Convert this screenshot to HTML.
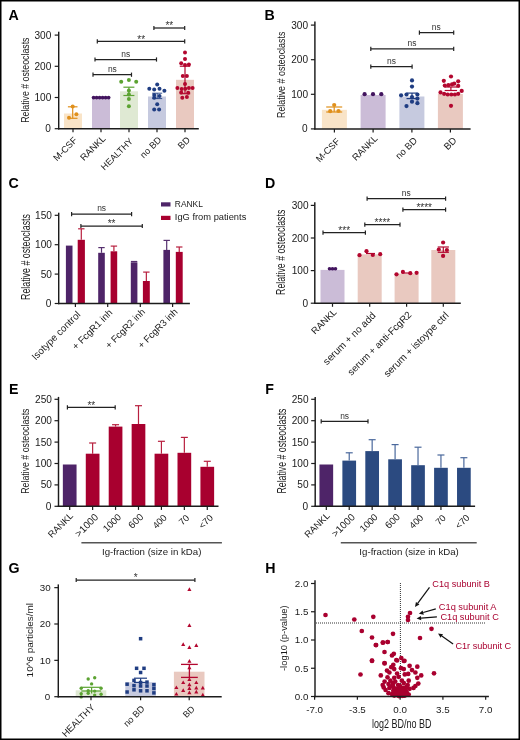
<!DOCTYPE html>
<html><head><meta charset="utf-8"><style>
html,body{margin:0;padding:0;background:#fff;width:520px;height:740px;overflow:hidden}
svg{display:block;font-family:"Liberation Sans", sans-serif;will-change:transform}
</style></head><body>
<svg width="520" height="740" viewBox="0 0 520 740">
<rect x="0" y="0" width="520" height="740" fill="#fff"/>
<text x="8.60" y="20.30" font-size="14.2" text-anchor="start" fill="#000" font-weight="bold" >A</text>
<rect x="64.00" y="113.50" width="18.00" height="15.20" fill="#f9e4c8"/>
<rect x="92.00" y="97.60" width="18.00" height="31.10" fill="#cbbcd7"/>
<rect x="120.00" y="91.30" width="18.00" height="37.40" fill="#dfe9d3"/>
<rect x="148.00" y="96.50" width="18.00" height="32.20" fill="#c6cadf"/>
<rect x="176.00" y="79.80" width="18.00" height="48.90" fill="#e9c9c0"/>
<line x1="72.70" y1="106.80" x2="72.70" y2="118.30" stroke="#e0901c" stroke-width="1.2" />
<line x1="67.90" y1="106.80" x2="77.50" y2="106.80" stroke="#e0901c" stroke-width="1.2" />
<line x1="67.90" y1="118.30" x2="77.50" y2="118.30" stroke="#e0901c" stroke-width="1.2" />
<circle cx="72.70" cy="106.60" r="2.0" fill="#e0901c"/>
<circle cx="76.40" cy="114.30" r="2.0" fill="#e0901c"/>
<circle cx="69.00" cy="117.70" r="2.0" fill="#e0901c"/>
<circle cx="93.60" cy="97.60" r="1.9" fill="#43155f"/>
<circle cx="96.60" cy="97.60" r="1.9" fill="#43155f"/>
<circle cx="99.60" cy="97.60" r="1.9" fill="#43155f"/>
<circle cx="102.60" cy="97.60" r="1.9" fill="#43155f"/>
<circle cx="105.60" cy="97.60" r="1.9" fill="#43155f"/>
<circle cx="108.60" cy="97.60" r="1.9" fill="#43155f"/>
<line x1="128.90" y1="87.20" x2="128.90" y2="95.50" stroke="#5ca332" stroke-width="1.2" />
<line x1="123.40" y1="87.20" x2="134.40" y2="87.20" stroke="#5ca332" stroke-width="1.2" />
<line x1="123.40" y1="95.50" x2="134.40" y2="95.50" stroke="#5ca332" stroke-width="1.2" />
<circle cx="121.20" cy="81.80" r="2.0" fill="#5ca332"/>
<circle cx="128.90" cy="80.10" r="2.0" fill="#5ca332"/>
<circle cx="136.20" cy="81.80" r="2.0" fill="#5ca332"/>
<circle cx="128.90" cy="90.40" r="2.0" fill="#5ca332"/>
<circle cx="128.90" cy="94.40" r="2.0" fill="#5ca332"/>
<circle cx="128.90" cy="98.90" r="2.0" fill="#5ca332"/>
<circle cx="128.90" cy="106.30" r="2.0" fill="#5ca332"/>
<line x1="157.20" y1="93.20" x2="157.20" y2="98.60" stroke="#1f3d82" stroke-width="0.9" />
<line x1="152.20" y1="93.20" x2="162.20" y2="93.20" stroke="#1f3d82" stroke-width="0.9" />
<line x1="152.20" y1="98.60" x2="162.20" y2="98.60" stroke="#1f3d82" stroke-width="0.9" />
<circle cx="157.20" cy="84.60" r="2.0" fill="#1f3d82"/>
<circle cx="149.30" cy="88.80" r="2.0" fill="#1f3d82"/>
<circle cx="154.20" cy="89.50" r="2.0" fill="#1f3d82"/>
<circle cx="159.50" cy="88.80" r="2.0" fill="#1f3d82"/>
<circle cx="164.40" cy="90.80" r="2.0" fill="#1f3d82"/>
<circle cx="154.20" cy="94.90" r="2.0" fill="#1f3d82"/>
<circle cx="159.50" cy="96.00" r="2.0" fill="#1f3d82"/>
<circle cx="154.20" cy="97.80" r="2.0" fill="#1f3d82"/>
<circle cx="157.20" cy="104.20" r="2.0" fill="#1f3d82"/>
<circle cx="154.20" cy="109.60" r="2.0" fill="#1f3d82"/>
<circle cx="159.10" cy="109.60" r="2.0" fill="#1f3d82"/>
<line x1="185.00" y1="66.20" x2="185.00" y2="93.70" stroke="#b3072f" stroke-width="1.2" />
<line x1="179.80" y1="66.20" x2="190.20" y2="66.20" stroke="#b3072f" stroke-width="1.2" />
<line x1="179.80" y1="93.70" x2="190.20" y2="93.70" stroke="#b3072f" stroke-width="1.2" />
<circle cx="185.00" cy="52.40" r="2.0" fill="#b3072f"/>
<circle cx="185.00" cy="58.90" r="2.0" fill="#b3072f"/>
<circle cx="181.20" cy="63.30" r="2.0" fill="#b3072f"/>
<circle cx="185.00" cy="64.90" r="2.0" fill="#b3072f"/>
<circle cx="188.90" cy="64.60" r="2.0" fill="#b3072f"/>
<circle cx="182.80" cy="76.10" r="2.0" fill="#b3072f"/>
<circle cx="186.90" cy="76.10" r="2.0" fill="#b3072f"/>
<circle cx="185.00" cy="83.90" r="2.0" fill="#b3072f"/>
<circle cx="177.40" cy="88.00" r="2.0" fill="#b3072f"/>
<circle cx="181.70" cy="89.10" r="2.0" fill="#b3072f"/>
<circle cx="185.30" cy="88.80" r="2.0" fill="#b3072f"/>
<circle cx="188.90" cy="88.00" r="2.0" fill="#b3072f"/>
<circle cx="192.60" cy="88.00" r="2.0" fill="#b3072f"/>
<circle cx="181.20" cy="92.40" r="2.0" fill="#b3072f"/>
<circle cx="188.20" cy="92.70" r="2.0" fill="#b3072f"/>
<circle cx="182.30" cy="97.80" r="2.0" fill="#b3072f"/>
<circle cx="186.90" cy="97.00" r="2.0" fill="#b3072f"/>
<line x1="58.70" y1="31.70" x2="58.70" y2="129.40" stroke="#1c1c1c" stroke-width="1.45" />
<line x1="54.70" y1="128.70" x2="58.70" y2="128.70" stroke="#1c1c1c" stroke-width="1.2" />
<text x="50.80" y="132.23" font-size="10.1" text-anchor="end" fill="#1a1a1a" font-weight="normal" >0</text>
<line x1="54.70" y1="97.50" x2="58.70" y2="97.50" stroke="#1c1c1c" stroke-width="1.2" />
<text x="51.30" y="101.03" font-size="10.1" text-anchor="end" fill="#1a1a1a" font-weight="normal" >100</text>
<line x1="54.70" y1="66.30" x2="58.70" y2="66.30" stroke="#1c1c1c" stroke-width="1.2" />
<text x="51.30" y="69.83" font-size="10.1" text-anchor="end" fill="#1a1a1a" font-weight="normal" >200</text>
<line x1="54.70" y1="35.10" x2="58.70" y2="35.10" stroke="#1c1c1c" stroke-width="1.2" />
<text x="51.30" y="38.63" font-size="10.1" text-anchor="end" fill="#1a1a1a" font-weight="normal" >300</text>
<line x1="58.00" y1="128.70" x2="198.80" y2="128.70" stroke="#1c1c1c" stroke-width="1.45" />
<line x1="73.00" y1="128.70" x2="73.00" y2="132.30" stroke="#1c1c1c" stroke-width="1.2" />
<line x1="101.00" y1="128.70" x2="101.00" y2="132.30" stroke="#1c1c1c" stroke-width="1.2" />
<line x1="129.00" y1="128.70" x2="129.00" y2="132.30" stroke="#1c1c1c" stroke-width="1.2" />
<line x1="157.00" y1="128.70" x2="157.00" y2="132.30" stroke="#1c1c1c" stroke-width="1.2" />
<line x1="185.00" y1="128.70" x2="185.00" y2="132.30" stroke="#1c1c1c" stroke-width="1.2" />
<text x="0" y="0" font-size="11.467" text-anchor="middle" fill="#1a1a1a" transform="translate(29.30 80.17) rotate(-90) scale(0.7655 1)">Relative # osteoclasts</text>
<text x="77.71" y="140.86" font-size="9.245" text-anchor="end" fill="#1a1a1a" font-weight="normal" transform="rotate(-45 77.71 140.86)" >M-CSF</text>
<text x="106.20" y="139.18" font-size="9.406" text-anchor="end" fill="#1a1a1a" font-weight="normal" transform="rotate(-45 106.20 139.18)" >RANKL</text>
<text x="133.61" y="141.67" font-size="9.053" text-anchor="end" fill="#1a1a1a" font-weight="normal" transform="rotate(-45 133.61 141.67)" >HEALTHY</text>
<text x="161.99" y="140.53" font-size="9.235" text-anchor="end" fill="#1a1a1a" font-weight="normal" transform="rotate(-45 161.99 140.53)" >no BD</text>
<text x="190.58" y="140.52" font-size="9.2" text-anchor="end" fill="#1a1a1a" font-weight="normal" transform="rotate(-45 190.58 140.52)" >BD</text>
<line x1="153.90" y1="28.00" x2="184.70" y2="28.00" stroke="#222" stroke-width="1.25" />
<line x1="153.90" y1="25.90" x2="153.90" y2="30.10" stroke="#222" stroke-width="1.2" />
<line x1="184.70" y1="25.90" x2="184.70" y2="30.10" stroke="#222" stroke-width="1.2" />
<text x="169.30" y="29.30" font-size="10" text-anchor="middle" fill="#333" font-weight="normal" >**</text>
<line x1="97.30" y1="41.40" x2="184.70" y2="41.40" stroke="#222" stroke-width="1.25" />
<line x1="97.30" y1="39.30" x2="97.30" y2="43.50" stroke="#222" stroke-width="1.2" />
<line x1="184.70" y1="39.30" x2="184.70" y2="43.50" stroke="#222" stroke-width="1.2" />
<text x="141.20" y="42.70" font-size="10" text-anchor="middle" fill="#333" font-weight="normal" >**</text>
<line x1="95.00" y1="59.50" x2="156.50" y2="59.50" stroke="#222" stroke-width="1.25" />
<line x1="95.00" y1="57.40" x2="95.00" y2="61.60" stroke="#222" stroke-width="1.2" />
<line x1="156.50" y1="57.40" x2="156.50" y2="61.60" stroke="#222" stroke-width="1.2" />
<text x="125.80" y="56.70" font-size="9.6" text-anchor="middle" fill="#333" font-weight="normal" textLength="8.90" lengthAdjust="spacingAndGlyphs" >ns</text>
<line x1="93.00" y1="74.70" x2="131.50" y2="74.70" stroke="#222" stroke-width="1.25" />
<line x1="93.00" y1="72.60" x2="93.00" y2="76.80" stroke="#222" stroke-width="1.2" />
<line x1="131.50" y1="72.60" x2="131.50" y2="76.80" stroke="#222" stroke-width="1.2" />
<text x="112.40" y="71.90" font-size="9.6" text-anchor="middle" fill="#333" font-weight="normal" textLength="8.90" lengthAdjust="spacingAndGlyphs" >ns</text>
<text x="264.60" y="20.30" font-size="14.2" text-anchor="start" fill="#000" font-weight="bold" >B</text>
<rect x="321.90" y="109.80" width="25.00" height="19.10" fill="#f9e4c8"/>
<rect x="360.60" y="95.00" width="25.00" height="33.90" fill="#cbbcd7"/>
<rect x="399.40" y="96.50" width="25.00" height="32.40" fill="#c6cadf"/>
<rect x="437.90" y="94.00" width="25.00" height="34.90" fill="#e9c9c0"/>
<line x1="334.20" y1="107.00" x2="334.20" y2="112.00" stroke="#e0901c" stroke-width="1.2" />
<line x1="326.20" y1="107.00" x2="342.20" y2="107.00" stroke="#e0901c" stroke-width="1.2" />
<line x1="326.20" y1="112.00" x2="342.20" y2="112.00" stroke="#e0901c" stroke-width="1.2" />
<circle cx="334.20" cy="105.00" r="2.1" fill="#e0901c"/>
<circle cx="330.20" cy="111.20" r="2.1" fill="#e0901c"/>
<circle cx="338.50" cy="111.00" r="2.1" fill="#e0901c"/>
<circle cx="364.60" cy="94.20" r="2.1" fill="#43155f"/>
<circle cx="373.00" cy="94.20" r="2.1" fill="#43155f"/>
<circle cx="381.30" cy="94.20" r="2.1" fill="#43155f"/>
<line x1="412.00" y1="93.10" x2="412.00" y2="98.60" stroke="#1f3d82" stroke-width="1.2" />
<line x1="406.50" y1="93.10" x2="417.50" y2="93.10" stroke="#1f3d82" stroke-width="1.2" />
<line x1="406.50" y1="98.60" x2="417.50" y2="98.60" stroke="#1f3d82" stroke-width="1.2" />
<circle cx="412.00" cy="80.40" r="2.1" fill="#1f3d82"/>
<circle cx="412.00" cy="86.60" r="2.1" fill="#1f3d82"/>
<circle cx="401.10" cy="95.30" r="2.1" fill="#1f3d82"/>
<circle cx="406.50" cy="94.50" r="2.1" fill="#1f3d82"/>
<circle cx="417.40" cy="94.50" r="2.1" fill="#1f3d82"/>
<circle cx="412.00" cy="97.10" r="2.1" fill="#1f3d82"/>
<circle cx="417.40" cy="98.60" r="2.1" fill="#1f3d82"/>
<circle cx="412.00" cy="101.70" r="2.1" fill="#1f3d82"/>
<circle cx="417.40" cy="103.20" r="2.1" fill="#1f3d82"/>
<circle cx="406.50" cy="106.10" r="2.1" fill="#1f3d82"/>
<line x1="450.90" y1="87.00" x2="450.90" y2="90.50" stroke="#b3072f" stroke-width="1.2" />
<line x1="444.70" y1="87.00" x2="457.10" y2="87.00" stroke="#b3072f" stroke-width="1.2" />
<line x1="444.70" y1="90.50" x2="457.10" y2="90.50" stroke="#b3072f" stroke-width="1.2" />
<circle cx="451.00" cy="76.50" r="2.1" fill="#b3072f"/>
<circle cx="443.80" cy="80.80" r="2.1" fill="#b3072f"/>
<circle cx="458.20" cy="81.30" r="2.1" fill="#b3072f"/>
<circle cx="444.80" cy="85.60" r="2.1" fill="#b3072f"/>
<circle cx="448.40" cy="85.20" r="2.1" fill="#b3072f"/>
<circle cx="452.00" cy="84.40" r="2.1" fill="#b3072f"/>
<circle cx="454.20" cy="83.70" r="2.1" fill="#b3072f"/>
<circle cx="458.20" cy="85.90" r="2.1" fill="#b3072f"/>
<circle cx="440.50" cy="92.40" r="2.1" fill="#b3072f"/>
<circle cx="444.10" cy="93.80" r="2.1" fill="#b3072f"/>
<circle cx="447.70" cy="94.50" r="2.1" fill="#b3072f"/>
<circle cx="451.30" cy="94.50" r="2.1" fill="#b3072f"/>
<circle cx="454.90" cy="94.50" r="2.1" fill="#b3072f"/>
<circle cx="458.20" cy="93.80" r="2.1" fill="#b3072f"/>
<circle cx="461.70" cy="90.90" r="2.1" fill="#b3072f"/>
<circle cx="451.00" cy="105.80" r="2.1" fill="#b3072f"/>
<line x1="314.90" y1="21.40" x2="314.90" y2="129.60" stroke="#1c1c1c" stroke-width="1.45" />
<line x1="310.90" y1="128.90" x2="314.90" y2="128.90" stroke="#1c1c1c" stroke-width="1.2" />
<text x="307.50" y="132.44" font-size="10.1" text-anchor="end" fill="#1a1a1a" font-weight="normal" >0</text>
<line x1="310.90" y1="94.30" x2="314.90" y2="94.30" stroke="#1c1c1c" stroke-width="1.2" />
<text x="308.00" y="97.84" font-size="10.1" text-anchor="end" fill="#1a1a1a" font-weight="normal" >100</text>
<line x1="310.90" y1="59.70" x2="314.90" y2="59.70" stroke="#1c1c1c" stroke-width="1.2" />
<text x="308.00" y="63.23" font-size="10.1" text-anchor="end" fill="#1a1a1a" font-weight="normal" >200</text>
<line x1="310.90" y1="25.10" x2="314.90" y2="25.10" stroke="#1c1c1c" stroke-width="1.2" />
<text x="308.00" y="28.63" font-size="10.1" text-anchor="end" fill="#1a1a1a" font-weight="normal" >300</text>
<line x1="314.20" y1="128.90" x2="470.60" y2="128.90" stroke="#1c1c1c" stroke-width="1.45" />
<line x1="334.40" y1="128.90" x2="334.40" y2="132.50" stroke="#1c1c1c" stroke-width="1.2" />
<line x1="373.10" y1="128.90" x2="373.10" y2="132.50" stroke="#1c1c1c" stroke-width="1.2" />
<line x1="411.90" y1="128.90" x2="411.90" y2="132.50" stroke="#1c1c1c" stroke-width="1.2" />
<line x1="450.40" y1="128.90" x2="450.40" y2="132.50" stroke="#1c1c1c" stroke-width="1.2" />
<text x="0" y="0" font-size="11.600" text-anchor="middle" fill="#1a1a1a" transform="translate(285.00 74.82) rotate(-90) scale(0.7665 1)">Relative # osteoclasts</text>
<text x="340.53" y="142.00" font-size="9.327" text-anchor="end" fill="#1a1a1a" font-weight="normal" transform="rotate(-45 340.53 142.00)" >M-CSF</text>
<text x="378.20" y="139.09" font-size="9.441" text-anchor="end" fill="#1a1a1a" font-weight="normal" transform="rotate(-45 378.20 139.09)" >RANKL</text>
<text x="417.82" y="141.12" font-size="9.474" text-anchor="end" fill="#1a1a1a" font-weight="normal" transform="rotate(-45 417.82 141.12)" >no BD</text>
<text x="457.25" y="141.17" font-size="9.64" text-anchor="end" fill="#1a1a1a" font-weight="normal" transform="rotate(-45 457.25 141.17)" >BD</text>
<line x1="370.80" y1="66.70" x2="412.10" y2="66.70" stroke="#222" stroke-width="1.25" />
<line x1="370.80" y1="64.60" x2="370.80" y2="68.80" stroke="#222" stroke-width="1.2" />
<line x1="412.10" y1="64.60" x2="412.10" y2="68.80" stroke="#222" stroke-width="1.2" />
<text x="391.50" y="63.90" font-size="9.6" text-anchor="middle" fill="#333" font-weight="normal" textLength="8.90" lengthAdjust="spacingAndGlyphs" >ns</text>
<line x1="370.80" y1="48.80" x2="453.70" y2="48.80" stroke="#222" stroke-width="1.25" />
<line x1="370.80" y1="46.70" x2="370.80" y2="50.90" stroke="#222" stroke-width="1.2" />
<line x1="453.70" y1="46.70" x2="453.70" y2="50.90" stroke="#222" stroke-width="1.2" />
<text x="412.00" y="46.00" font-size="9.6" text-anchor="middle" fill="#333" font-weight="normal" textLength="8.90" lengthAdjust="spacingAndGlyphs" >ns</text>
<line x1="419.40" y1="32.70" x2="453.70" y2="32.70" stroke="#222" stroke-width="1.25" />
<line x1="419.40" y1="30.60" x2="419.40" y2="34.80" stroke="#222" stroke-width="1.2" />
<line x1="453.70" y1="30.60" x2="453.70" y2="34.80" stroke="#222" stroke-width="1.2" />
<text x="436.30" y="29.90" font-size="9.6" text-anchor="middle" fill="#333" font-weight="normal" textLength="8.90" lengthAdjust="spacingAndGlyphs" >ns</text>
<text x="8.60" y="188.40" font-size="14.2" text-anchor="start" fill="#000" font-weight="bold" >C</text>
<rect x="65.90" y="245.60" width="6.60" height="57.90" fill="#4e2468"/>
<rect x="77.70" y="239.80" width="7.20" height="63.70" fill="#a8002f"/>
<line x1="81.30" y1="228.80" x2="81.30" y2="239.80" stroke="#b8203f" stroke-width="1.2" />
<line x1="78.10" y1="228.80" x2="84.50" y2="228.80" stroke="#b8203f" stroke-width="1.2" />
<rect x="98.20" y="252.80" width="6.60" height="50.70" fill="#4e2468"/>
<line x1="101.50" y1="247.60" x2="101.50" y2="252.80" stroke="#56306f" stroke-width="1.2" />
<line x1="98.30" y1="247.60" x2="104.70" y2="247.60" stroke="#56306f" stroke-width="1.2" />
<rect x="110.60" y="251.30" width="6.60" height="52.20" fill="#a8002f"/>
<line x1="113.90" y1="246.10" x2="113.90" y2="251.30" stroke="#b8203f" stroke-width="1.2" />
<line x1="110.70" y1="246.10" x2="117.10" y2="246.10" stroke="#b8203f" stroke-width="1.2" />
<rect x="130.80" y="262.30" width="6.60" height="41.20" fill="#4e2468"/>
<line x1="134.10" y1="261.50" x2="134.10" y2="262.30" stroke="#56306f" stroke-width="1.2" />
<line x1="130.90" y1="261.50" x2="137.30" y2="261.50" stroke="#56306f" stroke-width="1.2" />
<rect x="142.90" y="281.00" width="6.90" height="22.50" fill="#a8002f"/>
<line x1="146.35" y1="272.10" x2="146.35" y2="281.00" stroke="#b8203f" stroke-width="1.2" />
<line x1="143.15" y1="272.10" x2="149.55" y2="272.10" stroke="#b8203f" stroke-width="1.2" />
<rect x="163.40" y="249.90" width="6.60" height="53.60" fill="#4e2468"/>
<line x1="166.70" y1="240.40" x2="166.70" y2="249.90" stroke="#56306f" stroke-width="1.2" />
<line x1="163.50" y1="240.40" x2="169.90" y2="240.40" stroke="#56306f" stroke-width="1.2" />
<rect x="175.80" y="251.90" width="6.90" height="51.60" fill="#a8002f"/>
<line x1="179.25" y1="247.00" x2="179.25" y2="251.90" stroke="#b8203f" stroke-width="1.2" />
<line x1="176.05" y1="247.00" x2="182.45" y2="247.00" stroke="#b8203f" stroke-width="1.2" />
<line x1="58.70" y1="212.70" x2="58.70" y2="304.20" stroke="#1c1c1c" stroke-width="1.45" />
<line x1="54.70" y1="303.50" x2="58.70" y2="303.50" stroke="#1c1c1c" stroke-width="1.2" />
<text x="51.40" y="307.04" font-size="10.1" text-anchor="end" fill="#1a1a1a" font-weight="normal" >0</text>
<line x1="54.70" y1="274.10" x2="58.70" y2="274.10" stroke="#1c1c1c" stroke-width="1.2" />
<text x="51.91" y="277.64" font-size="10.1" text-anchor="end" fill="#1a1a1a" font-weight="normal" >50</text>
<line x1="54.70" y1="244.70" x2="58.70" y2="244.70" stroke="#1c1c1c" stroke-width="1.2" />
<text x="51.91" y="248.23" font-size="10.1" text-anchor="end" fill="#1a1a1a" font-weight="normal" >100</text>
<line x1="54.70" y1="215.30" x2="58.70" y2="215.30" stroke="#1c1c1c" stroke-width="1.2" />
<text x="51.91" y="218.84" font-size="10.1" text-anchor="end" fill="#1a1a1a" font-weight="normal" >150</text>
<line x1="58.00" y1="303.50" x2="189.90" y2="303.50" stroke="#1c1c1c" stroke-width="1.45" />
<line x1="75.40" y1="303.50" x2="75.40" y2="307.10" stroke="#1c1c1c" stroke-width="1.2" />
<line x1="107.70" y1="303.50" x2="107.70" y2="307.10" stroke="#1c1c1c" stroke-width="1.2" />
<line x1="140.30" y1="303.50" x2="140.30" y2="307.10" stroke="#1c1c1c" stroke-width="1.2" />
<line x1="172.60" y1="303.50" x2="172.60" y2="307.10" stroke="#1c1c1c" stroke-width="1.2" />
<text x="0" y="0" font-size="12.533" text-anchor="middle" fill="#1a1a1a" transform="translate(29.60 257.02) rotate(-90) scale(0.7061 1)">Relative # osteoclasts</text>
<line x1="71.60" y1="214.20" x2="131.60" y2="214.20" stroke="#222" stroke-width="1.25" />
<line x1="71.60" y1="212.10" x2="71.60" y2="216.30" stroke="#222" stroke-width="1.2" />
<line x1="131.60" y1="212.10" x2="131.60" y2="216.30" stroke="#222" stroke-width="1.2" />
<text x="101.60" y="211.40" font-size="9.6" text-anchor="middle" fill="#333" font-weight="normal" textLength="8.90" lengthAdjust="spacingAndGlyphs" >ns</text>
<line x1="80.90" y1="226.00" x2="142.30" y2="226.00" stroke="#222" stroke-width="1.25" />
<line x1="80.90" y1="223.90" x2="80.90" y2="228.10" stroke="#222" stroke-width="1.2" />
<line x1="142.30" y1="223.90" x2="142.30" y2="228.10" stroke="#222" stroke-width="1.2" />
<text x="111.60" y="227.30" font-size="10" text-anchor="middle" fill="#333" font-weight="normal" >**</text>
<rect x="161.00" y="202.30" width="9.50" height="4.20" fill="#4e2468"/>
<rect x="161.00" y="215.80" width="9.50" height="4.20" fill="#a8002f"/>
<text x="174.80" y="207.30" font-size="9.4" text-anchor="start" fill="#1a1a1a" font-weight="normal" textLength="28.10" lengthAdjust="spacingAndGlyphs" >RANKL</text>
<text x="174.80" y="220.30" font-size="9.4" text-anchor="start" fill="#1a1a1a" font-weight="normal" textLength="71.50" lengthAdjust="spacingAndGlyphs" >IgG from patients</text>
<text x="81.09" y="315.25" font-size="9.899" text-anchor="end" fill="#1a1a1a" font-weight="normal" transform="rotate(-45 81.09 315.25)" >Isotype control</text>
<text x="112.98" y="313.29" font-size="9.645" text-anchor="end" fill="#1a1a1a" font-weight="normal" transform="rotate(-45 112.98 313.29)" >+ FcgR1 inh</text>
<text x="145.68" y="312.46" font-size="9.53" text-anchor="end" fill="#1a1a1a" font-weight="normal" transform="rotate(-45 145.68 312.46)" >+ FcgR2 inh</text>
<text x="178.38" y="312.47" font-size="9.555" text-anchor="end" fill="#1a1a1a" font-weight="normal" transform="rotate(-45 178.38 312.47)" >+ FcgR3 inh</text>
<text x="265.00" y="188.40" font-size="14.2" text-anchor="start" fill="#000" font-weight="bold" >D</text>
<rect x="320.50" y="269.90" width="24.00" height="33.30" fill="#cbbcd7"/>
<rect x="357.70" y="254.30" width="24.00" height="48.90" fill="#e9c9c0"/>
<rect x="394.60" y="273.60" width="24.00" height="29.60" fill="#e9c9c0"/>
<rect x="431.30" y="250.00" width="24.00" height="53.20" fill="#e9c9c0"/>
<line x1="332.50" y1="268.50" x2="332.50" y2="269.50" stroke="#43155f" stroke-width="1.2" />
<line x1="329.50" y1="268.50" x2="335.50" y2="268.50" stroke="#43155f" stroke-width="1.2" />
<line x1="329.50" y1="269.50" x2="335.50" y2="269.50" stroke="#43155f" stroke-width="1.2" />
<circle cx="329.50" cy="268.80" r="1.8" fill="#43155f"/>
<circle cx="332.50" cy="268.80" r="1.8" fill="#43155f"/>
<circle cx="335.50" cy="268.80" r="1.8" fill="#43155f"/>
<line x1="366.00" y1="253.50" x2="375.00" y2="253.50" stroke="#b3072f" stroke-width="1.2" />
<circle cx="359.50" cy="255.20" r="2.1" fill="#b3072f"/>
<circle cx="366.50" cy="251.20" r="2.1" fill="#b3072f"/>
<circle cx="372.80" cy="255.00" r="2.1" fill="#b3072f"/>
<circle cx="380.20" cy="254.20" r="2.1" fill="#b3072f"/>
<line x1="402.00" y1="273.00" x2="412.00" y2="273.00" stroke="#b3072f" stroke-width="1.2" />
<circle cx="396.50" cy="274.30" r="2.1" fill="#b3072f"/>
<circle cx="402.90" cy="271.90" r="2.1" fill="#b3072f"/>
<circle cx="410.30" cy="273.20" r="2.1" fill="#b3072f"/>
<circle cx="416.60" cy="272.80" r="2.1" fill="#b3072f"/>
<line x1="443.30" y1="247.00" x2="443.30" y2="252.30" stroke="#b3072f" stroke-width="1.2" />
<line x1="437.70" y1="247.00" x2="448.90" y2="247.00" stroke="#b3072f" stroke-width="1.2" />
<line x1="437.70" y1="252.30" x2="448.90" y2="252.30" stroke="#b3072f" stroke-width="1.2" />
<circle cx="443.10" cy="242.50" r="2.1" fill="#b3072f"/>
<circle cx="438.80" cy="249.50" r="2.1" fill="#b3072f"/>
<circle cx="446.90" cy="250.00" r="2.1" fill="#b3072f"/>
<circle cx="443.10" cy="255.90" r="2.1" fill="#b3072f"/>
<line x1="314.80" y1="202.30" x2="314.80" y2="303.90" stroke="#1c1c1c" stroke-width="1.45" />
<line x1="310.80" y1="303.20" x2="314.80" y2="303.20" stroke="#1c1c1c" stroke-width="1.2" />
<text x="308.00" y="306.74" font-size="10.1" text-anchor="end" fill="#1a1a1a" font-weight="normal" >0</text>
<line x1="310.80" y1="270.60" x2="314.80" y2="270.60" stroke="#1c1c1c" stroke-width="1.2" />
<text x="308.50" y="274.13" font-size="10.1" text-anchor="end" fill="#1a1a1a" font-weight="normal" >100</text>
<line x1="310.80" y1="238.00" x2="314.80" y2="238.00" stroke="#1c1c1c" stroke-width="1.2" />
<text x="308.50" y="241.53" font-size="10.1" text-anchor="end" fill="#1a1a1a" font-weight="normal" >200</text>
<line x1="310.80" y1="205.40" x2="314.80" y2="205.40" stroke="#1c1c1c" stroke-width="1.2" />
<text x="308.50" y="208.93" font-size="10.1" text-anchor="end" fill="#1a1a1a" font-weight="normal" >300</text>
<line x1="314.10" y1="303.20" x2="460.80" y2="303.20" stroke="#1c1c1c" stroke-width="1.45" />
<line x1="332.50" y1="303.20" x2="332.50" y2="306.80" stroke="#1c1c1c" stroke-width="1.2" />
<line x1="369.70" y1="303.20" x2="369.70" y2="306.80" stroke="#1c1c1c" stroke-width="1.2" />
<line x1="406.60" y1="303.20" x2="406.60" y2="306.80" stroke="#1c1c1c" stroke-width="1.2" />
<line x1="443.30" y1="303.20" x2="443.30" y2="306.80" stroke="#1c1c1c" stroke-width="1.2" />
<text x="0" y="0" font-size="12.000" text-anchor="middle" fill="#1a1a1a" transform="translate(285.20 252.32) rotate(-90) scale(0.7306 1)">Relative # osteoclasts</text>
<line x1="323.00" y1="232.70" x2="365.40" y2="232.70" stroke="#222" stroke-width="1.25" />
<line x1="323.00" y1="230.60" x2="323.00" y2="234.80" stroke="#222" stroke-width="1.2" />
<line x1="365.40" y1="230.60" x2="365.40" y2="234.80" stroke="#222" stroke-width="1.2" />
<text x="344.20" y="234.00" font-size="10" text-anchor="middle" fill="#333" font-weight="normal" >***</text>
<line x1="364.80" y1="224.60" x2="400.00" y2="224.60" stroke="#222" stroke-width="1.25" />
<line x1="364.80" y1="222.50" x2="364.80" y2="226.70" stroke="#222" stroke-width="1.2" />
<line x1="400.00" y1="222.50" x2="400.00" y2="226.70" stroke="#222" stroke-width="1.2" />
<text x="382.40" y="225.90" font-size="10" text-anchor="middle" fill="#333" font-weight="normal" >****</text>
<line x1="402.90" y1="209.60" x2="445.60" y2="209.60" stroke="#222" stroke-width="1.25" />
<line x1="402.90" y1="207.50" x2="402.90" y2="211.70" stroke="#222" stroke-width="1.2" />
<line x1="445.60" y1="207.50" x2="445.60" y2="211.70" stroke="#222" stroke-width="1.2" />
<text x="424.20" y="210.90" font-size="10" text-anchor="middle" fill="#333" font-weight="normal" >****</text>
<line x1="367.10" y1="198.70" x2="445.60" y2="198.70" stroke="#222" stroke-width="1.25" />
<line x1="367.10" y1="196.60" x2="367.10" y2="200.80" stroke="#222" stroke-width="1.2" />
<line x1="445.60" y1="196.60" x2="445.60" y2="200.80" stroke="#222" stroke-width="1.2" />
<text x="406.30" y="195.90" font-size="9.6" text-anchor="middle" fill="#333" font-weight="normal" textLength="8.90" lengthAdjust="spacingAndGlyphs" >ns</text>
<text x="337.30" y="312.68" font-size="9.421" text-anchor="end" fill="#1a1a1a" font-weight="normal" transform="rotate(-45 337.30 312.68)" >RANKL</text>
<text x="376.30" y="316.19" font-size="9.983" text-anchor="end" fill="#1a1a1a" font-weight="normal" transform="rotate(-45 376.30 316.19)" >serum + no add</text>
<text x="412.19" y="315.30" font-size="9.74" text-anchor="end" fill="#1a1a1a" font-weight="normal" transform="rotate(-45 412.19 315.30)" >serum + anti-FcgR2</text>
<text x="449.40" y="316.01" font-size="10.023" text-anchor="end" fill="#1a1a1a" font-weight="normal" transform="rotate(-45 449.40 316.01)" >serum + istoype ctrl</text>
<text x="9.00" y="394.20" font-size="14.2" text-anchor="start" fill="#000" font-weight="bold" >E</text>
<rect x="62.85" y="464.50" width="13.70" height="41.80" fill="#4e2468"/>
<rect x="85.78" y="453.70" width="13.70" height="52.60" fill="#a8002f"/>
<line x1="92.63" y1="443.00" x2="92.63" y2="453.70" stroke="#b8203f" stroke-width="1.2" />
<line x1="89.13" y1="443.00" x2="96.13" y2="443.00" stroke="#b8203f" stroke-width="1.2" />
<rect x="108.71" y="426.60" width="13.70" height="79.70" fill="#a8002f"/>
<line x1="115.56" y1="424.70" x2="115.56" y2="426.60" stroke="#b8203f" stroke-width="1.2" />
<line x1="112.06" y1="424.70" x2="119.06" y2="424.70" stroke="#b8203f" stroke-width="1.2" />
<rect x="131.64" y="424.00" width="13.70" height="82.30" fill="#a8002f"/>
<line x1="138.49" y1="405.70" x2="138.49" y2="424.00" stroke="#b8203f" stroke-width="1.2" />
<line x1="134.99" y1="405.70" x2="141.99" y2="405.70" stroke="#b8203f" stroke-width="1.2" />
<rect x="154.57" y="453.70" width="13.70" height="52.60" fill="#a8002f"/>
<line x1="161.42" y1="441.30" x2="161.42" y2="453.70" stroke="#b8203f" stroke-width="1.2" />
<line x1="157.92" y1="441.30" x2="164.92" y2="441.30" stroke="#b8203f" stroke-width="1.2" />
<rect x="177.50" y="452.80" width="13.70" height="53.50" fill="#a8002f"/>
<line x1="184.35" y1="437.40" x2="184.35" y2="452.80" stroke="#b8203f" stroke-width="1.2" />
<line x1="180.85" y1="437.40" x2="187.85" y2="437.40" stroke="#b8203f" stroke-width="1.2" />
<rect x="200.43" y="466.80" width="13.70" height="39.50" fill="#a8002f"/>
<line x1="207.28" y1="461.30" x2="207.28" y2="466.80" stroke="#b8203f" stroke-width="1.2" />
<line x1="203.78" y1="461.30" x2="210.78" y2="461.30" stroke="#b8203f" stroke-width="1.2" />
<line x1="58.50" y1="396.90" x2="58.50" y2="507.00" stroke="#1c1c1c" stroke-width="1.45" />
<line x1="54.50" y1="506.30" x2="58.50" y2="506.30" stroke="#1c1c1c" stroke-width="1.2" />
<text x="51.40" y="509.84" font-size="10.1" text-anchor="end" fill="#1a1a1a" font-weight="normal" >0</text>
<line x1="54.50" y1="484.90" x2="58.50" y2="484.90" stroke="#1c1c1c" stroke-width="1.2" />
<text x="51.91" y="488.44" font-size="10.1" text-anchor="end" fill="#1a1a1a" font-weight="normal" >50</text>
<line x1="54.50" y1="463.50" x2="58.50" y2="463.50" stroke="#1c1c1c" stroke-width="1.2" />
<text x="51.91" y="467.04" font-size="10.1" text-anchor="end" fill="#1a1a1a" font-weight="normal" >100</text>
<line x1="54.50" y1="442.10" x2="58.50" y2="442.10" stroke="#1c1c1c" stroke-width="1.2" />
<text x="51.91" y="445.64" font-size="10.1" text-anchor="end" fill="#1a1a1a" font-weight="normal" >150</text>
<line x1="54.50" y1="420.70" x2="58.50" y2="420.70" stroke="#1c1c1c" stroke-width="1.2" />
<text x="51.91" y="424.24" font-size="10.1" text-anchor="end" fill="#1a1a1a" font-weight="normal" >200</text>
<line x1="54.50" y1="399.30" x2="58.50" y2="399.30" stroke="#1c1c1c" stroke-width="1.2" />
<text x="51.91" y="402.84" font-size="10.1" text-anchor="end" fill="#1a1a1a" font-weight="normal" >250</text>
<line x1="57.80" y1="506.30" x2="218.50" y2="506.30" stroke="#1c1c1c" stroke-width="1.45" />
<line x1="69.70" y1="506.30" x2="69.70" y2="509.90" stroke="#1c1c1c" stroke-width="1.2" />
<line x1="92.63" y1="506.30" x2="92.63" y2="509.90" stroke="#1c1c1c" stroke-width="1.2" />
<line x1="115.56" y1="506.30" x2="115.56" y2="509.90" stroke="#1c1c1c" stroke-width="1.2" />
<line x1="138.49" y1="506.30" x2="138.49" y2="509.90" stroke="#1c1c1c" stroke-width="1.2" />
<line x1="161.42" y1="506.30" x2="161.42" y2="509.90" stroke="#1c1c1c" stroke-width="1.2" />
<line x1="184.35" y1="506.30" x2="184.35" y2="509.90" stroke="#1c1c1c" stroke-width="1.2" />
<line x1="207.28" y1="506.30" x2="207.28" y2="509.90" stroke="#1c1c1c" stroke-width="1.2" />
<text x="0" y="0" font-size="11.333" text-anchor="middle" fill="#1a1a1a" transform="translate(29.40 451.12) rotate(-90) scale(0.7735 1)">Relative # osteoclasts</text>
<text x="73.70" y="516.36" font-size="9.305" text-anchor="end" fill="#1a1a1a" font-weight="normal" transform="rotate(-45 73.70 516.36)" >RANKL</text>
<text x="99.01" y="517.73" font-size="10.065" text-anchor="end" fill="#1a1a1a" font-weight="normal" transform="rotate(-45 99.01 517.73)" >&gt;1000</text>
<text x="121.75" y="517.69" font-size="9.481" text-anchor="end" fill="#1a1a1a" font-weight="normal" transform="rotate(-45 121.75 517.69)" >1000</text>
<text x="144.09" y="517.47" font-size="9.931" text-anchor="end" fill="#1a1a1a" font-weight="normal" transform="rotate(-45 144.09 517.47)" >600</text>
<text x="167.43" y="518.22" font-size="9.3" text-anchor="end" fill="#1a1a1a" font-weight="normal" transform="rotate(-45 167.43 518.22)" >400</text>
<text x="189.93" y="518.52" font-size="9.3" text-anchor="end" fill="#1a1a1a" font-weight="normal" transform="rotate(-45 189.93 518.52)" >70</text>
<text x="213.63" y="518.22" font-size="9.3" text-anchor="end" fill="#1a1a1a" font-weight="normal" transform="rotate(-45 213.63 518.22)" >&lt;70</text>
<line x1="81.40" y1="542.80" x2="221.90" y2="542.80" stroke="#555" stroke-width="1.6" />
<text x="151.70" y="554.80" font-size="9.8" text-anchor="middle" fill="#1a1a1a" font-weight="normal" textLength="99.50" lengthAdjust="spacingAndGlyphs" >Ig-fraction (size in kDa)</text>
<line x1="67.40" y1="407.40" x2="115.20" y2="407.40" stroke="#222" stroke-width="1.25" />
<line x1="67.40" y1="405.30" x2="67.40" y2="409.50" stroke="#222" stroke-width="1.2" />
<line x1="115.20" y1="405.30" x2="115.20" y2="409.50" stroke="#222" stroke-width="1.2" />
<text x="91.30" y="408.70" font-size="10" text-anchor="middle" fill="#333" font-weight="normal" >**</text>
<text x="265.20" y="394.20" font-size="14.2" text-anchor="start" fill="#000" font-weight="bold" >F</text>
<rect x="319.45" y="464.50" width="13.70" height="41.80" fill="#4e2468"/>
<rect x="342.38" y="460.60" width="13.70" height="45.70" fill="#2b4a80"/>
<line x1="349.23" y1="452.80" x2="349.23" y2="460.60" stroke="#4a689c" stroke-width="1.2" />
<line x1="345.73" y1="452.80" x2="352.73" y2="452.80" stroke="#4a689c" stroke-width="1.2" />
<rect x="365.31" y="451.10" width="13.70" height="55.20" fill="#2b4a80"/>
<line x1="372.16" y1="439.70" x2="372.16" y2="451.10" stroke="#4a689c" stroke-width="1.2" />
<line x1="368.66" y1="439.70" x2="375.66" y2="439.70" stroke="#4a689c" stroke-width="1.2" />
<rect x="388.24" y="459.30" width="13.70" height="47.00" fill="#2b4a80"/>
<line x1="395.09" y1="444.60" x2="395.09" y2="459.30" stroke="#4a689c" stroke-width="1.2" />
<line x1="391.59" y1="444.60" x2="398.59" y2="444.60" stroke="#4a689c" stroke-width="1.2" />
<rect x="411.17" y="465.20" width="13.70" height="41.10" fill="#2b4a80"/>
<line x1="418.02" y1="447.20" x2="418.02" y2="465.20" stroke="#4a689c" stroke-width="1.2" />
<line x1="414.52" y1="447.20" x2="421.52" y2="447.20" stroke="#4a689c" stroke-width="1.2" />
<rect x="434.10" y="467.80" width="13.70" height="38.50" fill="#2b4a80"/>
<line x1="440.95" y1="455.00" x2="440.95" y2="467.80" stroke="#4a689c" stroke-width="1.2" />
<line x1="437.45" y1="455.00" x2="444.45" y2="455.00" stroke="#4a689c" stroke-width="1.2" />
<rect x="457.03" y="467.80" width="13.70" height="38.50" fill="#2b4a80"/>
<line x1="463.88" y1="457.70" x2="463.88" y2="467.80" stroke="#4a689c" stroke-width="1.2" />
<line x1="460.38" y1="457.70" x2="467.38" y2="457.70" stroke="#4a689c" stroke-width="1.2" />
<line x1="315.20" y1="396.90" x2="315.20" y2="507.00" stroke="#1c1c1c" stroke-width="1.45" />
<line x1="311.20" y1="506.30" x2="315.20" y2="506.30" stroke="#1c1c1c" stroke-width="1.2" />
<text x="308.00" y="509.84" font-size="10.1" text-anchor="end" fill="#1a1a1a" font-weight="normal" >0</text>
<line x1="311.20" y1="484.90" x2="315.20" y2="484.90" stroke="#1c1c1c" stroke-width="1.2" />
<text x="308.50" y="488.44" font-size="10.1" text-anchor="end" fill="#1a1a1a" font-weight="normal" >50</text>
<line x1="311.20" y1="463.50" x2="315.20" y2="463.50" stroke="#1c1c1c" stroke-width="1.2" />
<text x="308.50" y="467.04" font-size="10.1" text-anchor="end" fill="#1a1a1a" font-weight="normal" >100</text>
<line x1="311.20" y1="442.10" x2="315.20" y2="442.10" stroke="#1c1c1c" stroke-width="1.2" />
<text x="308.50" y="445.64" font-size="10.1" text-anchor="end" fill="#1a1a1a" font-weight="normal" >150</text>
<line x1="311.20" y1="420.70" x2="315.20" y2="420.70" stroke="#1c1c1c" stroke-width="1.2" />
<text x="308.50" y="424.24" font-size="10.1" text-anchor="end" fill="#1a1a1a" font-weight="normal" >200</text>
<line x1="311.20" y1="399.30" x2="315.20" y2="399.30" stroke="#1c1c1c" stroke-width="1.2" />
<text x="308.50" y="402.84" font-size="10.1" text-anchor="end" fill="#1a1a1a" font-weight="normal" >250</text>
<line x1="314.50" y1="506.30" x2="475.10" y2="506.30" stroke="#1c1c1c" stroke-width="1.45" />
<line x1="326.30" y1="506.30" x2="326.30" y2="509.90" stroke="#1c1c1c" stroke-width="1.2" />
<line x1="349.23" y1="506.30" x2="349.23" y2="509.90" stroke="#1c1c1c" stroke-width="1.2" />
<line x1="372.16" y1="506.30" x2="372.16" y2="509.90" stroke="#1c1c1c" stroke-width="1.2" />
<line x1="395.09" y1="506.30" x2="395.09" y2="509.90" stroke="#1c1c1c" stroke-width="1.2" />
<line x1="418.02" y1="506.30" x2="418.02" y2="509.90" stroke="#1c1c1c" stroke-width="1.2" />
<line x1="440.95" y1="506.30" x2="440.95" y2="509.90" stroke="#1c1c1c" stroke-width="1.2" />
<line x1="463.88" y1="506.30" x2="463.88" y2="509.90" stroke="#1c1c1c" stroke-width="1.2" />
<text x="0" y="0" font-size="12.267" text-anchor="middle" fill="#1a1a1a" transform="translate(286.00 451.02) rotate(-90) scale(0.7130 1)">Relative # osteoclasts</text>
<text x="330.30" y="516.36" font-size="9.305" text-anchor="end" fill="#1a1a1a" font-weight="normal" transform="rotate(-45 330.30 516.36)" >RANKL</text>
<text x="355.61" y="517.73" font-size="10.065" text-anchor="end" fill="#1a1a1a" font-weight="normal" transform="rotate(-45 355.61 517.73)" >&gt;1000</text>
<text x="378.35" y="517.69" font-size="9.481" text-anchor="end" fill="#1a1a1a" font-weight="normal" transform="rotate(-45 378.35 517.69)" >1000</text>
<text x="400.69" y="517.47" font-size="9.931" text-anchor="end" fill="#1a1a1a" font-weight="normal" transform="rotate(-45 400.69 517.47)" >600</text>
<text x="424.03" y="518.22" font-size="9.3" text-anchor="end" fill="#1a1a1a" font-weight="normal" transform="rotate(-45 424.03 518.22)" >400</text>
<text x="446.53" y="518.52" font-size="9.3" text-anchor="end" fill="#1a1a1a" font-weight="normal" transform="rotate(-45 446.53 518.52)" >70</text>
<text x="470.23" y="518.22" font-size="9.3" text-anchor="end" fill="#1a1a1a" font-weight="normal" transform="rotate(-45 470.23 518.22)" >&lt;70</text>
<line x1="340.80" y1="542.80" x2="476.70" y2="542.80" stroke="#555" stroke-width="1.6" />
<text x="409.10" y="554.80" font-size="9.8" text-anchor="middle" fill="#1a1a1a" font-weight="normal" textLength="99.50" lengthAdjust="spacingAndGlyphs" >Ig-fraction (size in kDa)</text>
<line x1="321.20" y1="421.40" x2="368.00" y2="421.40" stroke="#222" stroke-width="1.25" />
<line x1="321.20" y1="419.30" x2="321.20" y2="423.50" stroke="#222" stroke-width="1.2" />
<line x1="368.00" y1="419.30" x2="368.00" y2="423.50" stroke="#222" stroke-width="1.2" />
<text x="344.60" y="418.60" font-size="9.6" text-anchor="middle" fill="#333" font-weight="normal" textLength="8.90" lengthAdjust="spacingAndGlyphs" >ns</text>
<text x="8.60" y="572.60" font-size="14.2" text-anchor="start" fill="#000" font-weight="bold" >G</text>
<rect x="75.70" y="690.30" width="30.60" height="6.40" fill="#dfe9d3"/>
<rect x="125.30" y="682.20" width="30.60" height="14.50" fill="#c6cadf"/>
<rect x="173.90" y="671.70" width="30.60" height="25.00" fill="#e9c9c0"/>
<line x1="81.20" y1="687.30" x2="101.10" y2="687.30" stroke="#5ca332" stroke-width="1.2" />
<line x1="81.20" y1="691.00" x2="101.10" y2="691.00" stroke="#5ca332" stroke-width="1.2" />
<line x1="91.60" y1="687.30" x2="91.60" y2="693.50" stroke="#5ca332" stroke-width="1.2" />
<circle cx="88.20" cy="679.00" r="1.7" fill="#5ca332"/>
<circle cx="94.70" cy="677.80" r="1.7" fill="#5ca332"/>
<circle cx="91.60" cy="683.90" r="1.7" fill="#5ca332"/>
<circle cx="81.20" cy="688.20" r="1.7" fill="#5ca332"/>
<circle cx="101.10" cy="688.20" r="1.7" fill="#5ca332"/>
<circle cx="88.20" cy="690.80" r="1.7" fill="#5ca332"/>
<circle cx="94.70" cy="691.10" r="1.7" fill="#5ca332"/>
<circle cx="81.20" cy="693.70" r="1.7" fill="#5ca332"/>
<circle cx="88.20" cy="693.20" r="1.7" fill="#5ca332"/>
<circle cx="94.70" cy="695.10" r="1.7" fill="#5ca332"/>
<circle cx="101.10" cy="694.30" r="1.7" fill="#5ca332"/>
<circle cx="81.20" cy="696.90" r="1.7" fill="#5ca332"/>
<line x1="134.00" y1="678.20" x2="147.00" y2="678.20" stroke="#1f3d82" stroke-width="1.2" />
<line x1="134.00" y1="682.40" x2="147.00" y2="682.40" stroke="#1f3d82" stroke-width="1.2" />
<line x1="140.60" y1="678.20" x2="140.60" y2="685.00" stroke="#1f3d82" stroke-width="1.2" />
<rect x="138.85" y="636.95" width="3.5" height="3.5" fill="#1f3d82"/>
<rect x="134.85" y="666.55" width="3.5" height="3.5" fill="#1f3d82"/>
<rect x="142.25" y="666.55" width="3.5" height="3.5" fill="#1f3d82"/>
<rect x="138.85" y="670.75" width="3.5" height="3.5" fill="#1f3d82"/>
<rect x="132.25" y="678.65" width="3.5" height="3.5" fill="#1f3d82"/>
<rect x="138.85" y="680.75" width="3.5" height="3.5" fill="#1f3d82"/>
<rect x="145.25" y="680.35" width="3.5" height="3.5" fill="#1f3d82"/>
<rect x="125.35" y="682.45" width="3.5" height="3.5" fill="#1f3d82"/>
<rect x="152.15" y="682.95" width="3.5" height="3.5" fill="#1f3d82"/>
<rect x="132.25" y="683.85" width="3.5" height="3.5" fill="#1f3d82"/>
<rect x="138.85" y="684.25" width="3.5" height="3.5" fill="#1f3d82"/>
<rect x="145.25" y="684.25" width="3.5" height="3.5" fill="#1f3d82"/>
<rect x="152.15" y="686.75" width="3.5" height="3.5" fill="#1f3d82"/>
<rect x="125.35" y="690.25" width="3.5" height="3.5" fill="#1f3d82"/>
<rect x="132.25" y="688.05" width="3.5" height="3.5" fill="#1f3d82"/>
<rect x="138.85" y="689.05" width="3.5" height="3.5" fill="#1f3d82"/>
<rect x="145.25" y="689.05" width="3.5" height="3.5" fill="#1f3d82"/>
<rect x="152.15" y="691.15" width="3.5" height="3.5" fill="#1f3d82"/>
<line x1="189.40" y1="664.40" x2="189.40" y2="677.40" stroke="#b3072f" stroke-width="1.3" />
<line x1="181.00" y1="664.40" x2="197.80" y2="664.40" stroke="#b3072f" stroke-width="1.3" />
<line x1="181.00" y1="677.40" x2="197.80" y2="677.40" stroke="#b3072f" stroke-width="1.3" />
<polygon points="189.40,587.19 191.45,590.88 187.35,590.88" fill="#b3072f"/>
<polygon points="189.40,623.29 191.45,626.98 187.35,626.98" fill="#b3072f"/>
<polygon points="183.20,642.19 185.25,645.88 181.15,645.88" fill="#b3072f"/>
<polygon points="196.30,643.19 198.35,646.88 194.25,646.88" fill="#b3072f"/>
<polygon points="189.40,645.19 191.45,648.88 187.35,648.88" fill="#b3072f"/>
<polygon points="189.40,658.99 191.45,662.68 187.35,662.68" fill="#b3072f"/>
<polygon points="189.40,665.49 191.45,669.18 187.35,669.18" fill="#b3072f"/>
<polygon points="189.40,677.19 191.45,680.88 187.35,680.88" fill="#b3072f"/>
<polygon points="183.20,680.39 185.25,684.08 181.15,684.08" fill="#b3072f"/>
<polygon points="196.30,680.39 198.35,684.08 194.25,684.08" fill="#b3072f"/>
<polygon points="189.40,682.49 191.45,686.18 187.35,686.18" fill="#b3072f"/>
<polygon points="176.40,685.39 178.45,689.08 174.35,689.08" fill="#b3072f"/>
<polygon points="183.20,688.19 185.25,691.88 181.15,691.88" fill="#b3072f"/>
<polygon points="189.40,686.19 191.45,689.88 187.35,689.88" fill="#b3072f"/>
<polygon points="196.30,685.79 198.35,689.48 194.25,689.48" fill="#b3072f"/>
<polygon points="202.80,685.79 204.85,689.48 200.75,689.48" fill="#b3072f"/>
<polygon points="176.40,691.89 178.45,695.58 174.35,695.58" fill="#b3072f"/>
<polygon points="189.40,690.59 191.45,694.28 187.35,694.28" fill="#b3072f"/>
<polygon points="196.30,689.79 198.35,693.48 194.25,693.48" fill="#b3072f"/>
<polygon points="202.80,692.79 204.85,696.48 200.75,696.48" fill="#b3072f"/>
<line x1="58.30" y1="584.40" x2="58.30" y2="697.40" stroke="#1c1c1c" stroke-width="1.45" />
<line x1="54.30" y1="696.70" x2="58.30" y2="696.70" stroke="#1c1c1c" stroke-width="1.2" />
<text x="50.20" y="700.13" font-size="9.8" text-anchor="end" fill="#1a1a1a" font-weight="normal" >0</text>
<line x1="54.30" y1="660.35" x2="58.30" y2="660.35" stroke="#1c1c1c" stroke-width="1.2" />
<text x="50.69" y="663.78" font-size="9.8" text-anchor="end" fill="#1a1a1a" font-weight="normal" >10</text>
<line x1="54.30" y1="624.00" x2="58.30" y2="624.00" stroke="#1c1c1c" stroke-width="1.2" />
<text x="50.69" y="627.43" font-size="9.8" text-anchor="end" fill="#1a1a1a" font-weight="normal" >20</text>
<line x1="54.30" y1="587.65" x2="58.30" y2="587.65" stroke="#1c1c1c" stroke-width="1.2" />
<text x="50.69" y="591.08" font-size="9.8" text-anchor="end" fill="#1a1a1a" font-weight="normal" >30</text>
<line x1="57.60" y1="696.70" x2="221.70" y2="696.70" stroke="#1c1c1c" stroke-width="1.45" />
<line x1="91.00" y1="696.70" x2="91.00" y2="700.30" stroke="#1c1c1c" stroke-width="1.2" />
<line x1="140.60" y1="696.70" x2="140.60" y2="700.30" stroke="#1c1c1c" stroke-width="1.2" />
<line x1="189.20" y1="696.70" x2="189.20" y2="700.30" stroke="#1c1c1c" stroke-width="1.2" />
<text x="0" y="0" font-size="9.368" text-anchor="middle" fill="#1a1a1a" transform="translate(32.73 640.20) rotate(-90) scale(1.0645 1)">10^6 particles/ml</text>
<line x1="76.20" y1="580.00" x2="194.90" y2="580.00" stroke="#222" stroke-width="1.25" />
<line x1="76.20" y1="577.90" x2="76.20" y2="582.10" stroke="#222" stroke-width="1.2" />
<line x1="194.90" y1="577.90" x2="194.90" y2="582.10" stroke="#222" stroke-width="1.2" />
<text x="135.60" y="581.30" font-size="10" text-anchor="middle" fill="#333" font-weight="normal" >*</text>
<text x="95.25" y="707.86" font-size="9.239" text-anchor="end" fill="#1a1a1a" font-weight="normal" transform="rotate(-45 95.25 707.86)" >HEALTHY</text>
<text x="145.18" y="709.22" font-size="9.187" text-anchor="end" fill="#1a1a1a" font-weight="normal" transform="rotate(-45 145.18 709.22)" >no BD</text>
<text x="195.33" y="709.61" font-size="8.88" text-anchor="end" fill="#1a1a1a" font-weight="normal" transform="rotate(-45 195.33 709.61)" >BD</text>
<text x="265.20" y="572.60" font-size="14.2" text-anchor="start" fill="#000" font-weight="bold" >H</text>
<line x1="316" y1="623.0" x2="485.5" y2="623.0" stroke="#333" stroke-width="1" stroke-dasharray="1 1"/>
<line x1="400.4" y1="583.0" x2="400.4" y2="696" stroke="#333" stroke-width="1" stroke-dasharray="1 1"/>
<circle cx="325.50" cy="615.00" r="2.35" fill="#a9002f"/>
<circle cx="354.30" cy="619.50" r="2.35" fill="#a9002f"/>
<circle cx="373.30" cy="616.80" r="2.35" fill="#a9002f"/>
<circle cx="410.00" cy="613.00" r="2.35" fill="#a9002f"/>
<circle cx="408.00" cy="616.80" r="2.35" fill="#a9002f"/>
<circle cx="408.00" cy="620.00" r="2.35" fill="#a9002f"/>
<circle cx="431.50" cy="628.80" r="2.35" fill="#a9002f"/>
<circle cx="361.80" cy="631.00" r="2.35" fill="#a9002f"/>
<circle cx="393.00" cy="633.80" r="2.35" fill="#a9002f"/>
<circle cx="372.00" cy="637.50" r="2.35" fill="#a9002f"/>
<circle cx="420.00" cy="638.00" r="2.35" fill="#a9002f"/>
<circle cx="375.80" cy="645.00" r="2.35" fill="#a9002f"/>
<circle cx="383.00" cy="642.50" r="2.35" fill="#a9002f"/>
<circle cx="387.80" cy="642.00" r="2.35" fill="#a9002f"/>
<circle cx="384.50" cy="652.00" r="2.35" fill="#a9002f"/>
<circle cx="392.00" cy="655.50" r="2.35" fill="#a9002f"/>
<circle cx="393.80" cy="653.80" r="2.35" fill="#a9002f"/>
<circle cx="372.00" cy="660.50" r="2.35" fill="#a9002f"/>
<circle cx="396.30" cy="660.00" r="2.35" fill="#a9002f"/>
<circle cx="401.30" cy="658.00" r="2.35" fill="#a9002f"/>
<circle cx="404.50" cy="660.80" r="2.35" fill="#a9002f"/>
<circle cx="384.50" cy="663.00" r="2.35" fill="#a9002f"/>
<circle cx="360.50" cy="674.50" r="2.35" fill="#a9002f"/>
<circle cx="434.00" cy="673.30" r="2.35" fill="#a9002f"/>
<circle cx="384.60" cy="663.40" r="2.35" fill="#a9002f"/>
<circle cx="393.30" cy="664.80" r="2.35" fill="#a9002f"/>
<circle cx="397.10" cy="660.50" r="2.35" fill="#a9002f"/>
<circle cx="403.80" cy="661.00" r="2.35" fill="#a9002f"/>
<circle cx="409.60" cy="665.80" r="2.35" fill="#a9002f"/>
<circle cx="417.30" cy="666.70" r="2.35" fill="#a9002f"/>
<circle cx="391.30" cy="667.20" r="2.35" fill="#a9002f"/>
<circle cx="387.00" cy="670.60" r="2.35" fill="#a9002f"/>
<circle cx="394.20" cy="669.10" r="2.35" fill="#a9002f"/>
<circle cx="401.00" cy="668.20" r="2.35" fill="#a9002f"/>
<circle cx="403.80" cy="669.10" r="2.35" fill="#a9002f"/>
<circle cx="412.00" cy="670.10" r="2.35" fill="#a9002f"/>
<circle cx="415.40" cy="672.50" r="2.35" fill="#a9002f"/>
<circle cx="421.20" cy="675.40" r="2.35" fill="#a9002f"/>
<circle cx="380.80" cy="675.40" r="2.35" fill="#a9002f"/>
<circle cx="389.40" cy="672.50" r="2.35" fill="#a9002f"/>
<circle cx="397.10" cy="673.50" r="2.35" fill="#a9002f"/>
<circle cx="404.80" cy="674.40" r="2.35" fill="#a9002f"/>
<circle cx="408.20" cy="673.90" r="2.35" fill="#a9002f"/>
<circle cx="387.50" cy="677.30" r="2.35" fill="#a9002f"/>
<circle cx="394.20" cy="677.80" r="2.35" fill="#a9002f"/>
<circle cx="398.60" cy="676.80" r="2.35" fill="#a9002f"/>
<circle cx="417.30" cy="677.80" r="2.35" fill="#a9002f"/>
<circle cx="384.60" cy="681.60" r="2.35" fill="#a9002f"/>
<circle cx="390.40" cy="680.70" r="2.35" fill="#a9002f"/>
<circle cx="395.20" cy="681.60" r="2.35" fill="#a9002f"/>
<circle cx="401.90" cy="680.70" r="2.35" fill="#a9002f"/>
<circle cx="408.70" cy="680.70" r="2.35" fill="#a9002f"/>
<circle cx="382.70" cy="685.00" r="2.35" fill="#a9002f"/>
<circle cx="388.50" cy="684.00" r="2.35" fill="#a9002f"/>
<circle cx="392.80" cy="683.10" r="2.35" fill="#a9002f"/>
<circle cx="398.10" cy="685.00" r="2.35" fill="#a9002f"/>
<circle cx="403.80" cy="683.10" r="2.35" fill="#a9002f"/>
<circle cx="407.70" cy="685.00" r="2.35" fill="#a9002f"/>
<circle cx="418.30" cy="683.60" r="2.35" fill="#a9002f"/>
<circle cx="415.40" cy="686.00" r="2.35" fill="#a9002f"/>
<circle cx="383.70" cy="687.40" r="2.35" fill="#a9002f"/>
<circle cx="389.40" cy="687.90" r="2.35" fill="#a9002f"/>
<circle cx="395.20" cy="688.80" r="2.35" fill="#a9002f"/>
<circle cx="402.90" cy="687.90" r="2.35" fill="#a9002f"/>
<circle cx="409.60" cy="688.80" r="2.35" fill="#a9002f"/>
<circle cx="413.50" cy="687.90" r="2.35" fill="#a9002f"/>
<circle cx="385.60" cy="690.00" r="2.35" fill="#a9002f"/>
<circle cx="388.50" cy="693.20" r="2.35" fill="#a9002f"/>
<circle cx="396.20" cy="692.70" r="2.35" fill="#a9002f"/>
<circle cx="401.00" cy="691.70" r="2.35" fill="#a9002f"/>
<circle cx="406.70" cy="692.70" r="2.35" fill="#a9002f"/>
<circle cx="394.20" cy="695.60" r="2.35" fill="#a9002f"/>
<circle cx="399.00" cy="696.10" r="2.35" fill="#a9002f"/>
<circle cx="404.80" cy="695.60" r="2.35" fill="#a9002f"/>
<circle cx="408.70" cy="694.60" r="2.35" fill="#a9002f"/>
<circle cx="393.30" cy="690.80" r="2.35" fill="#a9002f"/>
<circle cx="405.80" cy="690.80" r="2.35" fill="#a9002f"/>
<circle cx="376.10" cy="645.10" r="2.35" fill="#a9002f"/>
<circle cx="382.80" cy="642.70" r="2.35" fill="#a9002f"/>
<circle cx="387.50" cy="642.00" r="2.35" fill="#a9002f"/>
<circle cx="372.00" cy="660.90" r="2.35" fill="#a9002f"/>
<circle cx="392.00" cy="694.00" r="2.35" fill="#a9002f"/>
<circle cx="398.00" cy="693.00" r="2.35" fill="#a9002f"/>
<circle cx="403.00" cy="694.00" r="2.35" fill="#a9002f"/>
<circle cx="397.00" cy="689.00" r="2.35" fill="#a9002f"/>
<circle cx="400.00" cy="686.00" r="2.35" fill="#a9002f"/>
<circle cx="392.00" cy="686.00" r="2.35" fill="#a9002f"/>
<circle cx="406.00" cy="688.00" r="2.35" fill="#a9002f"/>
<circle cx="399.93" cy="693.70" r="2.35" fill="#a9002f"/>
<circle cx="400.05" cy="694.58" r="2.35" fill="#a9002f"/>
<circle cx="397.09" cy="695.04" r="2.35" fill="#a9002f"/>
<circle cx="405.67" cy="694.09" r="2.35" fill="#a9002f"/>
<circle cx="405.35" cy="694.88" r="2.35" fill="#a9002f"/>
<circle cx="402.66" cy="695.17" r="2.35" fill="#a9002f"/>
<circle cx="394.00" cy="692.15" r="2.35" fill="#a9002f"/>
<circle cx="403.13" cy="693.76" r="2.35" fill="#a9002f"/>
<circle cx="393.90" cy="688.15" r="2.35" fill="#a9002f"/>
<circle cx="397.26" cy="693.89" r="2.35" fill="#a9002f"/>
<circle cx="402.28" cy="695.79" r="2.35" fill="#a9002f"/>
<circle cx="403.19" cy="693.11" r="2.35" fill="#a9002f"/>
<circle cx="402.30" cy="694.23" r="2.35" fill="#a9002f"/>
<circle cx="398.22" cy="688.27" r="2.35" fill="#a9002f"/>
<circle cx="403.34" cy="690.61" r="2.35" fill="#a9002f"/>
<circle cx="398.39" cy="692.67" r="2.35" fill="#a9002f"/>
<circle cx="399.56" cy="695.52" r="2.35" fill="#a9002f"/>
<circle cx="403.65" cy="694.88" r="2.35" fill="#a9002f"/>
<circle cx="399.12" cy="691.69" r="2.35" fill="#a9002f"/>
<circle cx="398.81" cy="690.51" r="2.35" fill="#a9002f"/>
<circle cx="397.61" cy="694.90" r="2.35" fill="#a9002f"/>
<circle cx="402.79" cy="689.30" r="2.35" fill="#a9002f"/>
<circle cx="401.20" cy="690.12" r="2.35" fill="#a9002f"/>
<circle cx="392.54" cy="694.55" r="2.35" fill="#a9002f"/>
<circle cx="400.55" cy="692.32" r="2.35" fill="#a9002f"/>
<circle cx="403.09" cy="695.72" r="2.35" fill="#a9002f"/>
<circle cx="394.85" cy="692.27" r="2.35" fill="#a9002f"/>
<circle cx="403.81" cy="691.74" r="2.35" fill="#a9002f"/>
<circle cx="407.05" cy="694.37" r="2.35" fill="#a9002f"/>
<circle cx="401.50" cy="690.15" r="2.35" fill="#a9002f"/>
<circle cx="403.58" cy="693.25" r="2.35" fill="#a9002f"/>
<circle cx="399.10" cy="690.31" r="2.35" fill="#a9002f"/>
<circle cx="396.94" cy="693.61" r="2.35" fill="#a9002f"/>
<circle cx="406.41" cy="686.86" r="2.35" fill="#a9002f"/>
<circle cx="394.88" cy="694.92" r="2.35" fill="#a9002f"/>
<circle cx="407.06" cy="693.40" r="2.35" fill="#a9002f"/>
<circle cx="393.02" cy="684.67" r="2.35" fill="#a9002f"/>
<circle cx="402.50" cy="692.69" r="2.35" fill="#a9002f"/>
<line x1="315.00" y1="580.20" x2="315.00" y2="697.20" stroke="#1c1c1c" stroke-width="1.45" />
<line x1="311.00" y1="696.50" x2="315.00" y2="696.50" stroke="#1c1c1c" stroke-width="1.2" />
<text x="308.39" y="699.93" font-size="9.8" text-anchor="end" fill="#1a1a1a" font-weight="normal" >0.0</text>
<line x1="311.00" y1="668.25" x2="315.00" y2="668.25" stroke="#1c1c1c" stroke-width="1.2" />
<text x="308.39" y="671.68" font-size="9.8" text-anchor="end" fill="#1a1a1a" font-weight="normal" >0.5</text>
<line x1="311.00" y1="640.00" x2="315.00" y2="640.00" stroke="#1c1c1c" stroke-width="1.2" />
<text x="308.39" y="643.43" font-size="9.8" text-anchor="end" fill="#1a1a1a" font-weight="normal" >1.0</text>
<line x1="311.00" y1="611.75" x2="315.00" y2="611.75" stroke="#1c1c1c" stroke-width="1.2" />
<text x="308.39" y="615.18" font-size="9.8" text-anchor="end" fill="#1a1a1a" font-weight="normal" >1.5</text>
<line x1="311.00" y1="583.50" x2="315.00" y2="583.50" stroke="#1c1c1c" stroke-width="1.2" />
<text x="308.39" y="586.93" font-size="9.8" text-anchor="end" fill="#1a1a1a" font-weight="normal" >2.0</text>
<line x1="314.30" y1="696.50" x2="488.90" y2="696.50" stroke="#1c1c1c" stroke-width="1.45" />
<line x1="314.60" y1="696.50" x2="314.60" y2="699.80" stroke="#1c1c1c" stroke-width="1.2" />
<line x1="357.37" y1="696.50" x2="357.37" y2="699.80" stroke="#1c1c1c" stroke-width="1.2" />
<line x1="400.14" y1="696.50" x2="400.14" y2="699.80" stroke="#1c1c1c" stroke-width="1.2" />
<line x1="442.91" y1="696.50" x2="442.91" y2="699.80" stroke="#1c1c1c" stroke-width="1.2" />
<line x1="485.68" y1="696.50" x2="485.68" y2="699.80" stroke="#1c1c1c" stroke-width="1.2" />
<text x="314.60" y="713.00" font-size="9.8" text-anchor="middle" fill="#1a1a1a" font-weight="normal" >-7.0</text>
<text x="357.37" y="713.00" font-size="9.8" text-anchor="middle" fill="#1a1a1a" font-weight="normal" >-3.5</text>
<text x="400.14" y="713.00" font-size="9.8" text-anchor="middle" fill="#1a1a1a" font-weight="normal" >0.0</text>
<text x="442.91" y="713.00" font-size="9.8" text-anchor="middle" fill="#1a1a1a" font-weight="normal" >3.5</text>
<text x="485.68" y="713.00" font-size="9.8" text-anchor="middle" fill="#1a1a1a" font-weight="normal" >7.0</text>
<text x="0" y="0" font-size="9.789" text-anchor="middle" fill="#1a1a1a" transform="translate(286.94 638.15) rotate(-90) scale(0.9608 1)">-log10 (p-value)</text>
<text x="401.80" y="728.20" font-size="12.0" text-anchor="middle" fill="#1a1a1a" font-weight="normal" textLength="59.50" lengthAdjust="spacingAndGlyphs" >log2 BD/no BD</text>
<text x="432.30" y="587.30" font-size="9.5" text-anchor="start" fill="#a9002f" font-weight="normal" textLength="57.70" lengthAdjust="spacingAndGlyphs" >C1q subunit B</text>
<text x="438.80" y="609.70" font-size="9.5" text-anchor="start" fill="#a9002f" font-weight="normal" textLength="57.70" lengthAdjust="spacingAndGlyphs" >C1q subunit A</text>
<text x="440.40" y="619.60" font-size="9.5" text-anchor="start" fill="#a9002f" font-weight="normal" textLength="58.40" lengthAdjust="spacingAndGlyphs" >C1q subunit C</text>
<text x="455.40" y="648.90" font-size="9.5" text-anchor="start" fill="#a9002f" font-weight="normal" textLength="55.80" lengthAdjust="spacingAndGlyphs" >C1r subunit C</text>
<line x1="429.50" y1="587.30" x2="417.68" y2="603.28" stroke="#111" stroke-width="1.2"/>
<polygon points="415.00,606.90 415.91,601.97 419.44,604.59" fill="#111"/>
<line x1="435.80" y1="608.80" x2="423.22" y2="612.52" stroke="#111" stroke-width="1.2"/>
<polygon points="418.90,613.80 422.59,610.41 423.84,614.63" fill="#111"/>
<line x1="436.90" y1="616.80" x2="421.08" y2="618.12" stroke="#111" stroke-width="1.2"/>
<polygon points="416.60,618.50 420.90,615.93 421.27,620.32" fill="#111"/>
<line x1="453.10" y1="643.90" x2="441.80" y2="636.06" stroke="#111" stroke-width="1.2"/>
<polygon points="438.10,633.50 443.05,634.26 440.54,637.87" fill="#111"/>
<rect x="0.75" y="0.75" width="518.5" height="738.5" fill="none" stroke="#000" stroke-width="1.5"/>
</svg>
</body></html>
